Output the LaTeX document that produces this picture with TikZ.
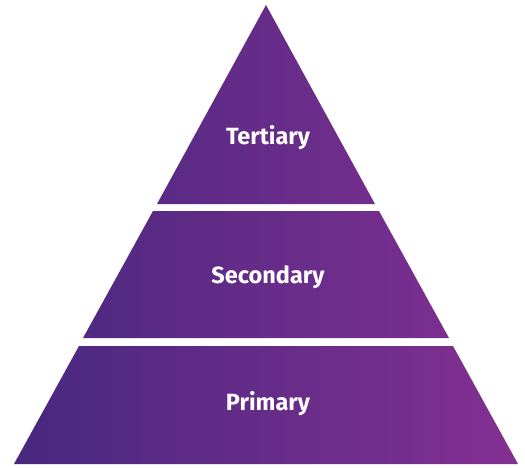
\documentclass[tikz,border=0pt]{standalone}
\usepackage{fontspec}
\setmainfont{Fira Sans}
\begin{document}
\begin{tikzpicture}[x=1pt,y=-1pt,
  tierlabel/.style={text=white,font=\bfseries\fontsize{23.5}{28}\selectfont,inner sep=0pt}]
\useasboundingbox (0,0) rectangle (525,468);
\definecolor{pleft}{HTML}{48287F}
\definecolor{pmid}{HTML}{5A2A87}
\definecolor{pright}{HTML}{833092}
\begin{scope}
  \clip (266,5) -- (375,204) -- (157,204) -- cycle
        (153,211) -- (379,211) -- (449,338) -- (83,338) -- cycle
        (79,346) -- (453,346) -- (518,464) -- (14,464) -- cycle;
  \shade[left color=pleft,middle color=pmid,right color=pright] (14,0) rectangle (518,468);
\end{scope}
\node[tierlabel] (tertiary) at (268,138) {Tertiary};
\node[tierlabel] (secondary) at (268,277) {Secondary};
\node[tierlabel] (primary) at (268,404) {Primary};
\end{tikzpicture}
\end{document}
